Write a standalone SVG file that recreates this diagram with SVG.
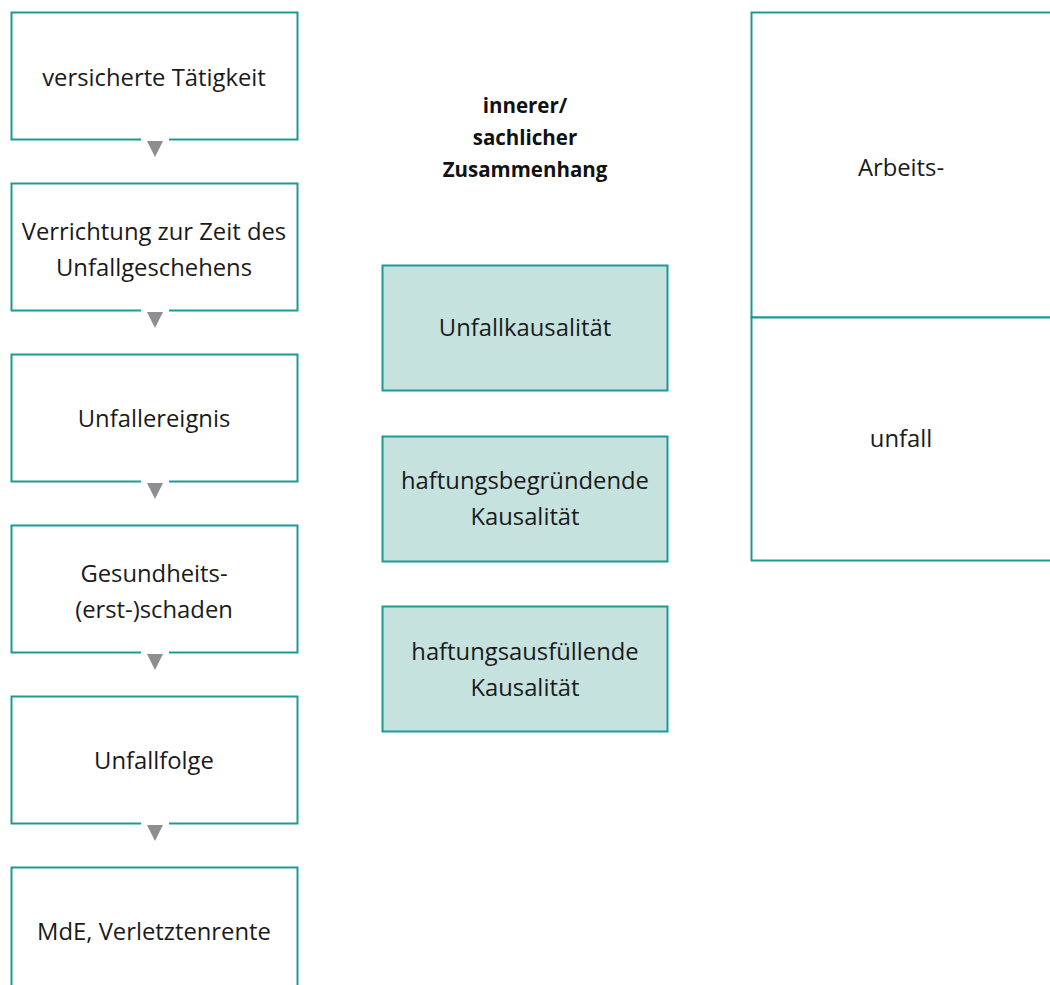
<svg xmlns="http://www.w3.org/2000/svg" width="1050" height="985" viewBox="0 0 1050 985">
<style>
.box{fill:#ffffff;stroke:#1a9a94;stroke-width:2}
.tbox{fill:#c5e2df;stroke:#1a9a94;stroke-width:2}
.t{font-family:"Open Sans",Lato,sans-serif;font-size:23.8px;fill:#1a1a1a;text-anchor:middle}
.b{font-family:"Open Sans",Lato,sans-serif;font-size:20.5px;font-weight:bold;fill:#111;text-anchor:middle}
.gap{fill:#ffffff}
.arr{fill:#8e8e92}
</style>
<rect width="1050" height="985" fill="#ffffff"/>
<g id="n1"><rect class="box" x="11.5" y="12.5" width="286" height="127"/><text class="t" x="154" y="86">versicherte Tätigkeit</text></g>
<g id="n2"><rect class="box" x="11.5" y="183.5" width="286" height="127"/><text class="t" x="154" y="240">Verrichtung zur Zeit des</text><text class="t" x="154" y="276">Unfallgeschehens</text></g>
<g id="n3"><rect class="box" x="11.5" y="354.5" width="286" height="127"/><text class="t" x="154" y="427">Unfallereignis</text></g>
<g id="n4"><rect class="box" x="11.5" y="525.5" width="286" height="127"/><text class="t" x="154" y="582">Gesundheits-</text><text class="t" x="154" y="618">(erst-)schaden</text></g>
<g id="n5"><rect class="box" x="11.5" y="696.5" width="286" height="127"/><text class="t" x="154" y="769">Unfallfolge</text></g>
<g id="n6"><rect class="box" x="11.5" y="867.5" width="286" height="127"/><text class="t" x="154" y="940">MdE, Verletztenrente</text></g>
<g id="label"><text class="b" x="525" y="113">innerer/</text><text class="b" x="525" y="145">sachlicher</text><text class="b" x="525" y="177">Zusammenhang</text></g>
<g id="k1"><rect class="tbox" x="382.5" y="265.5" width="285" height="125"/><text class="t" x="525" y="336">Unfallkausalität</text></g>
<g id="k2"><rect class="tbox" x="382.5" y="436.5" width="285" height="125"/><text class="t" x="525" y="489">haftungsbegründende</text><text class="t" x="525" y="525">Kausalität</text></g>
<g id="k3"><rect class="tbox" x="382.5" y="606.5" width="285" height="125"/><text class="t" x="525" y="660">haftungsausfüllende</text><text class="t" x="525" y="696">Kausalität</text></g>
<g id="a"><rect class="box" x="751.5" y="12.5" width="300" height="305"/><text class="t" x="901" y="176">Arbeits-</text></g>
<g id="u"><rect class="box" x="751.5" y="317.5" width="300" height="243"/><text class="t" x="901" y="447">unfall</text></g>
<g id="connectors">
<rect class="gap" x="141" y="137" width="28" height="5"/><path class="arr" d="M147 141H163L155 157Z"/>
<rect class="gap" x="141" y="308" width="28" height="5"/><path class="arr" d="M147 312H163L155 328Z"/>
<rect class="gap" x="141" y="479" width="28" height="5"/><path class="arr" d="M147 483H163L155 499Z"/>
<rect class="gap" x="141" y="650" width="28" height="5"/><path class="arr" d="M147 654H163L155 670Z"/>
<rect class="gap" x="141" y="821" width="28" height="5"/><path class="arr" d="M147 825H163L155 841Z"/>
</g>
</svg>
